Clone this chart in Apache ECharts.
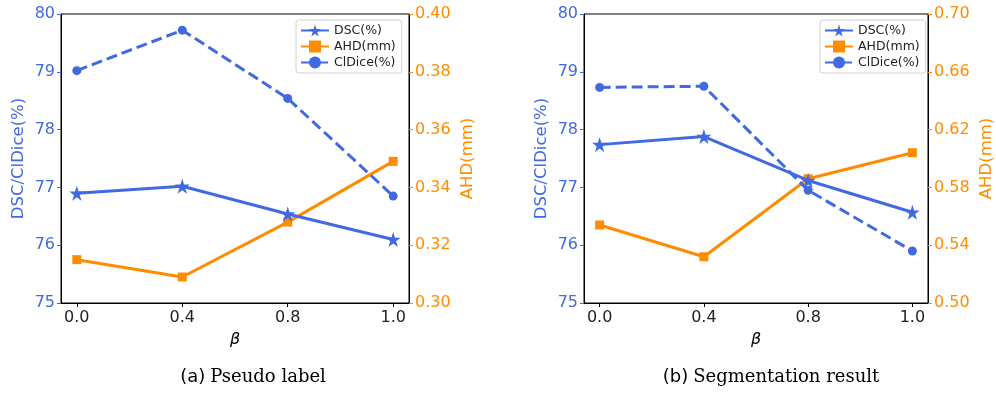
<!DOCTYPE html>
<html>
<head>
<meta charset="utf-8">
<script src="https://cdn.jsdelivr.net/npm/echarts@6/dist/echarts.min.js"></script>
<style>
  html, body { margin: 0; padding: 0; background: #fff; }
  #main { width: 996px; height: 393px; }
</style>
</head>
<body>
<div id="main"></div>
<script>
const chart = echarts.init(document.getElementById('main'));

// beta values (evenly spaced on the axis)
const betas = ['0.0', '0.4', '0.8', '1.0'];

// (a) Pseudo label
const dscA = [76.90, 77.02, 76.54, 76.10];
const cldiceA = [79.02, 79.72, 78.54, 76.85];
const ahdA = [0.315, 0.309, 0.328, 0.349];

// (b) Segmentation result
const dscB = [77.74, 77.88, 77.12, 76.57];
const cldiceB = [78.73, 78.75, 76.95, 75.90];
const ahdB = [0.554, 0.532, 0.586, 0.604];

const captions = ['Pseudo label', 'Segmentation result'];

const BLUE = '#4169e1';
const ORANGE = '#ff8c00';
const STAR = 'path://M50 0 L61.23 34.55 L97.55 34.55 L68.17 55.9 L79.39 90.45 L50 69.1 L20.61 90.45 L31.83 55.9 L2.45 34.55 L38.77 34.55 Z';
const tickIdx = betas.map((b, i) => i);
const toPts = arr => arr.map((v, i) => [i, v]);

const grids = [
  { left: 61, top: 14, width: 348, height: 289 },
  { left: 584, top: 14, width: 349, height: 289 }
];

function xAxis(gi) {
  return {
    type: 'value', gridIndex: gi, min: -0.15, max: 3.15,
    name: 'β', nameLocation: 'middle', nameGap: 29,
    nameTextStyle: { fontFamily: 'DejaVu Sans', fontStyle: 'italic', fontSize: 16, color: '#000' },
    axisLine: { show: true, onZero: false, lineStyle: { color: '#000', width: 1 } },
    axisTick: { show: true, customValues: tickIdx, length: 4, inside: false, lineStyle: { color: '#000' } },
    axisLabel: { customValues: tickIdx, formatter: v => betas[Math.round(v)], fontFamily: 'DejaVu Sans', fontSize: 16, color: '#222', margin: 7 },
    splitLine: { show: false }
  };
}

function yLeft(gi) {
  return {
    type: 'value', gridIndex: gi, position: 'left', min: 75, max: 80, interval: 1,
    name: 'DSC/ClDice(%)', nameLocation: 'middle', nameGap: 34,
    nameTextStyle: { fontFamily: 'DejaVu Sans', fontSize: 16.5, color: BLUE },
    axisLine: { show: true, onZero: false, lineStyle: { color: '#000' } },
    axisTick: { show: true, length: 4, lineStyle: { color: BLUE } },
    axisLabel: { fontFamily: 'DejaVu Sans', fontSize: 16, color: BLUE, margin: 6 },
    splitLine: { show: false }
  };
}

function yRight(gi, min, max, step) {
  return {
    type: 'value', gridIndex: gi, position: 'right', min: min, max: max, interval: step,
    name: 'AHD(mm)', nameLocation: 'middle', nameGap: 50,
    nameRotate: 90,
    nameTextStyle: { fontFamily: 'DejaVu Sans', fontSize: 16.5, color: ORANGE },
    axisLine: { show: true, onZero: false, lineStyle: { color: '#000' } },
    axisTick: { show: true, length: 4, lineStyle: { color: ORANGE } },
    axisLabel: { fontFamily: 'DejaVu Sans', fontSize: 16, color: ORANGE, margin: 6, formatter: v => v.toFixed(2) },
    splitLine: { show: false }
  };
}

function seriesFor(gi, dsc, ahd, cl) {
  return [
    { name: 'DSC(%)', type: 'line', xAxisIndex: gi, yAxisIndex: gi * 2, data: toPts(dsc),
      symbol: STAR, symbolSize: 15, lineStyle: { color: BLUE, width: 3 }, itemStyle: { color: BLUE }, z: 3 },
    { name: 'AHD(mm)', type: 'line', xAxisIndex: gi, yAxisIndex: gi * 2 + 1, data: toPts(ahd),
      symbol: 'rect', symbolSize: 9, lineStyle: { color: ORANGE, width: 3 }, itemStyle: { color: ORANGE }, z: 2 },
    { name: 'ClDice(%)', type: 'line', xAxisIndex: gi, yAxisIndex: gi * 2, data: toPts(cl),
      symbol: 'circle', symbolSize: 9, lineStyle: { color: BLUE, width: 3, type: [11, 5] }, itemStyle: { color: BLUE }, z: 3 }
  ];
}

function legend(left) {
  return {
    orient: 'vertical', left: left, top: 20,
    data: ['DSC(%)', 'AHD(mm)', 'ClDice(%)'],
    itemWidth: 28, itemHeight: 15, itemGap: 3,
    padding: [4, 6, 4, 4],
    borderColor: '#d0d0d0', borderWidth: 1, borderRadius: 3,
    backgroundColor: 'rgba(255,255,255,0.8)',
    textStyle: { fontFamily: 'DejaVu Sans', fontSize: 12.5, color: '#222' },
    selectedMode: false
  };
}

const option = {
  animation: false,
  grid: grids.map(g => Object.assign({ show: true, borderColor: '#000', borderWidth: 1, backgroundColor: 'transparent' }, g)),
  legend: [legend(296), legend(820)],
  title: captions.map((c, i) => ({
    text: '{a|(' + 'ab'[i] + ')} {b|' + c + '}',
    left: i === 0 ? 248 : 766, top: 363, textAlign: 'center',
    textStyle: {
      fontWeight: 'normal',
      rich: {
        a: { fontFamily: 'DejaVu Sans', fontSize: 18, fontWeight: 'normal', color: '#000' },
        b: { fontFamily: 'DejaVu Serif', fontSize: 18, fontWeight: 'normal', color: '#000' }
      }
    }
  })),
  xAxis: [xAxis(0), xAxis(1)],
  yAxis: [yLeft(0), yRight(0, 0.30, 0.40, 0.02), yLeft(1), yRight(1, 0.50, 0.70, 0.04)],
  series: [].concat(seriesFor(0, dscA, ahdA, cldiceA), seriesFor(1, dscB, ahdB, cldiceB))
};

chart.setOption(option);
</script>
</body>
</html>
